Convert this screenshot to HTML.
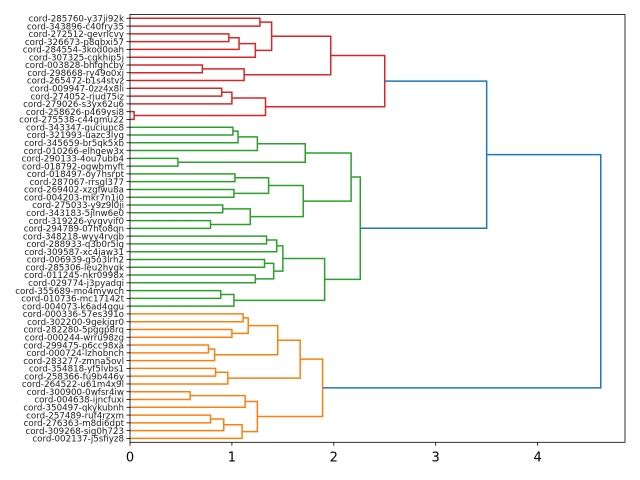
<!DOCTYPE html>
<html><head><meta charset="utf-8"><style>html,body{margin:0;padding:0;background:#fff}svg{display:block}</style></head>
<body>
<svg id="s" width="640" height="480" xmlns="http://www.w3.org/2000/svg"></svg>
<script>
const names=["285760-y37ji92k","343896-c40fry35","272512-gevrlcvy","326673-p8qbxi57","284554-3kod0oah","307325-cgkhip5j","003828-bhfghcby","298668-ry49o0xj","265472-b1s4stvz","009947-0zz4x8li","274052-rjud75iz","279026-s3yx62u6","258626-p469ysi8","275538-c44gmu22","343347-guciupc8","321993-uazc3lyg","345659-br5qk5xb","010266-elhgew3x","290133-4ou7ubb4","018792-ogwbmyft","018497-oy7hsrpt","287067-rrsgl377","269402-xzgfwu8a","004203-mkr7n1j0","275033-y9z9l0ji","343183-5jlnw6e0","319226-yvgvyif0","294789-07hto8qn","348218-wyy4rvqb","288933-q3b0r5ig","309587-xc4jaw31","006939-g5o3lrh2","285306-leu2hygk","011245-nkr0998x","029774-j3pyadqi","355689-mo4mywch","010736-mc17142t","004073-k6ad4qgu","000336-57es391o","302200-9gekjgr0","282280-5pggp8rq","000244-wrru98zg","299475-p6cc98xa","000724-lzhobnch","283277-zmna5ovl","354818-yf5lvbs1","258366-fu9b446y","264522-u61m4x9l","300900-0wfsr4iw","004638-ijncfuxi","350497-qkykubnh","257489-ruf4rzxm","276363-m8di6dpt","309268-sig0h723","002137-j5sfiyz8"];
const R="#d62728",G="#2ca02c",O="#ff7f0e",B="#1f77b4";
function n(h,c,a,b){return {h:h,col:c,a:a,b:b};}
const red=n(2.50,R,
  n(1.97,R, n(1.39,R,n(1.275,R,0,1), n(1.23,R,n(1.07,R,n(0.97,R,2,3),4),5)), n(1.12,R,n(0.71,R,6,7),8)),
  n(1.33,R, n(1.0,R,n(0.90,R,9,10),11), n(0.04,R,12,13)));
const green=n(2.26,G,
  n(2.17,G, n(1.72,G, n(1.25,G,n(1.06,G,n(1.01,G,14,15),16),17), n(0.47,G,18,19)),
             n(1.70,G, n(1.36,G,n(1.03,G,20,21),n(1.02,G,22,23)), n(1.18,G,n(0.91,G,24,25),n(0.79,G,26,27)))),
  n(1.91,G, n(1.50,G, n(1.44,G,n(1.34,G,28,29),30), n(1.41,G,n(1.32,G,31,32),n(1.23,G,33,34))),
             n(1.02,G,n(0.89,G,35,36),37)));
const orange=n(1.89,O,
  n(1.67,O, n(1.45,O, n(1.16,O,n(1.11,O,38,39),n(1.00,O,40,41)), n(0.83,O,n(0.77,O,42,43),44)),
             n(0.96,O,n(0.84,O,45,46),47)),
  n(1.25,O, n(1.13,O,n(0.59,O,48,49),50), n(1.10,O,n(0.92,O,n(0.79,O,51,52),53),54)));
const blue=n(3.5,B,red,green);
const root=n(4.62,B,blue,orange);
const X0=130,SX=101.9,T=14.4,BOT=442.3,N=55,SP=(BOT-T)/N;
const ly=i=>T+SP*(i+0.5), px=v=>X0+v*SX;
let out="";
function walk(t){
  if(typeof t==="number")return [0,ly(t)];
  const ra=walk(t.a),rb=walk(t.b);
  const xh=px(t.h);
  out+=`<polyline points="${px(ra[0])},${ra[1]} ${xh},${ra[1]} ${xh},${rb[1]} ${px(rb[0])},${rb[1]}" fill="none" stroke="${t.col}" stroke-width="1.5"/>`;
  return [t.h,(ra[1]+rb[1])/2];
}
walk(root);
let s=`<rect x="${X0}" y="${T}" width="${625-X0}" height="${BOT-T}" fill="none" stroke="#000" stroke-width="0.8"/>`;
s+=`<g font-family="DejaVu Sans, Liberation Sans, sans-serif" font-size="8.7" fill="#222" text-anchor="end">`;
names.forEach((nm,i)=>{const y=ly(i);s+=`<line x1="${X0-3.5}" y1="${y}" x2="${X0}" y2="${y}" stroke="#000" stroke-width="0.8"/><text x="${X0-6}" y="${y+3.2}">cord-${nm}</text>`;});
s+=`</g><g font-family="DejaVu Sans, Liberation Sans, sans-serif" font-size="13" fill="#000" text-anchor="middle">`;
for(let k=0;k<=4;k++){const x=px(k);s+=`<line x1="${x}" y1="${BOT}" x2="${x}" y2="${BOT+3.5}" stroke="#000" stroke-width="0.8"/><text x="${x}" y="${BOT+19}">${k}</text>`;}
s+=`</g>`;
document.getElementById("s").innerHTML=out+s;
</script>
</body></html>
